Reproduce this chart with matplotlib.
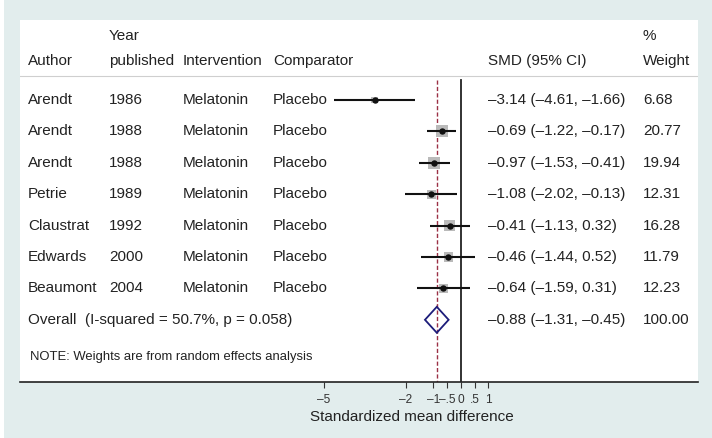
import matplotlib
matplotlib.use("Agg")
import matplotlib.pyplot as plt
from matplotlib.patches import Rectangle, Polygon
import numpy as np

plt.rcParams['font.family'] = ['Liberation Sans', 'DejaVu Sans']

# study data
authors = ["Arendt", "Arendt", "Arendt", "Petrie", "Claustrat", "Edwards", "Beaumont"]
years = [1986, 1988, 1988, 1989, 1992, 2000, 2004]
intervention = ["Melatonin"] * 7
comparator = ["Placebo"] * 7
smd = [-3.14, -0.69, -0.97, -1.08, -0.41, -0.46, -0.64]
ci_lo = [-4.61, -1.22, -1.53, -2.02, -1.13, -1.44, -1.59]
ci_hi = [-1.66, -0.17, -0.41, -0.13, 0.32, 0.52, 0.31]
weights = [6.68, 20.77, 19.94, 12.31, 16.28, 11.79, 12.23]

overall_smd = -0.88
overall_lo = -1.31
overall_hi = -0.45
overall_label = "Overall  (I-squared = 50.7%, p = 0.058)"
note = "NOTE: Weights are from random effects analysis"

tick_vals = [-5, -2, -1, -0.5, 0, 0.5, 1]
tick_labels = ["\u20135", "\u20132", "\u20131", "\u2013.5", "0", ".5", "1"]

W, H = 712, 438
fig = plt.figure(figsize=(W / 100, H / 100), dpi=100)
fig.patch.set_facecolor("#e2eded")
# thin white strip on the left edge
fig.patches.append(Rectangle((0, 0), 4 / W, 1, transform=fig.transFigure,
                             facecolor="white", edgecolor="none", zorder=-10))

# white panel in pixels
pl, pr, pt, pb = 20, 698, 20, 382
ax = fig.add_axes([pl / W, (H - pb) / H, (pr - pl) / W, (pb - pt) / H])
ax.set_facecolor("white")

zero_px = 461
px_per_unit = 27.5
def px2x(px):
    return (px - zero_px) / px_per_unit

ax.set_xlim(px2x(pl), px2x(pr))
ax.set_ylim(pb, pt)  # y in pixels from top

for s in ["top", "left", "right"]:
    ax.spines[s].set_visible(False)
ax.spines["bottom"].set_linewidth(1.2)
ax.spines["bottom"].set_color("#222222")
ax.set_yticks([])
ax.set_xticks(tick_vals)
ax.set_xticklabels(tick_labels, fontsize=8.6, color="#333333")
ax.tick_params(axis="x", direction="out", length=4.3, width=0.8, color="#333333", pad=4.5)

fs = 11
row0, row_step = 100, 31.4
rows = [row0 + i * row_step for i in range(len(authors))]
overall_y = row0 + len(authors) * row_step

col_author, col_year, col_int, col_comp = 28, 109, 183, 273
col_smd, col_w = 488, 643

# header
hdr_y1, hdr_y2 = 36, 61
for px, lines in [(col_author, ["", "Author"]), (col_year, ["Year", "published"]),
                  (col_int, ["", "Intervention"]), (col_comp, ["", "Comparator"]),
                  (col_smd, ["", "SMD (95% CI)"]), (col_w, ["%", "Weight"])]:
    for yy, t in zip([hdr_y1, hdr_y2], lines):
        if t:
            ax.text(px2x(px), yy, t, fontsize=fs, va="center", ha="left", color="#222222")
ax.axhline(76, color="#cfcfcf", lw=0.8)

# reference lines
ax.plot([0, 0], [80, pb], color="#222222", lw=1.3, zorder=2)
ax.plot([overall_smd, overall_smd], [80, pb], color="#9b3045", lw=1.0,
        dashes=(3, 1.6), zorder=2)

# studies: box side grows with sqrt(weight)
side_px = [12.0 * np.sqrt(w / 20.77) for w in weights]
ax.scatter(smd, rows, s=[(sp * 0.72) ** 2 for sp in side_px], marker="s",
           color="#bababa", edgecolor="none", zorder=3)
ax.hlines(rows, ci_lo, ci_hi, color="#111111", lw=1.5, zorder=4)
ax.plot(smd, rows, "o", color="#111111", ms=3.6, zorder=5)

for i, y in enumerate(rows):
    ax.text(px2x(col_author), y, authors[i], fontsize=fs, va="center", color="#222222")
    ax.text(px2x(col_year), y, str(years[i]), fontsize=fs, va="center", color="#222222")
    ax.text(px2x(col_int), y, intervention[i], fontsize=fs, va="center", color="#222222")
    ax.text(px2x(col_comp), y, comparator[i], fontsize=fs, va="center", color="#222222")
    ax.text(px2x(col_smd), y,
            f"{smd[i]:.2f} ({ci_lo[i]:.2f}, {ci_hi[i]:.2f})".replace("-", "\u2013"),
            fontsize=fs, va="center", color="#222222")
    ax.text(px2x(col_w), y, f"{weights[i]:.2f}", fontsize=fs, va="center", color="#222222")

# overall diamond
dh = 13
diamond = Polygon([(overall_lo, overall_y), (overall_smd, overall_y - dh),
                   (overall_hi, overall_y), (overall_smd, overall_y + dh)],
                  closed=True, fill=False, edgecolor="#1c1c7a", lw=1.3, zorder=5)
ax.add_patch(diamond)
ax.text(px2x(col_author), overall_y, overall_label, fontsize=fs, va="center", color="#222222")
ax.text(px2x(col_smd), overall_y,
        f"{overall_smd:.2f} ({overall_lo:.2f}, {overall_hi:.2f})".replace("-", "\u2013"),
        fontsize=fs, va="center", color="#222222")
ax.text(px2x(col_w), overall_y, "100.00", fontsize=fs, va="center", color="#222222")

ax.text(px2x(30), 357, note, fontsize=9.4, va="center", color="#222222")

fig.text(412 / W, 1 - 417 / H, "Standardized mean difference", fontsize=fs,
         ha="center", va="center", color="#222222")

fig.savefig("out.png", dpi=100)
